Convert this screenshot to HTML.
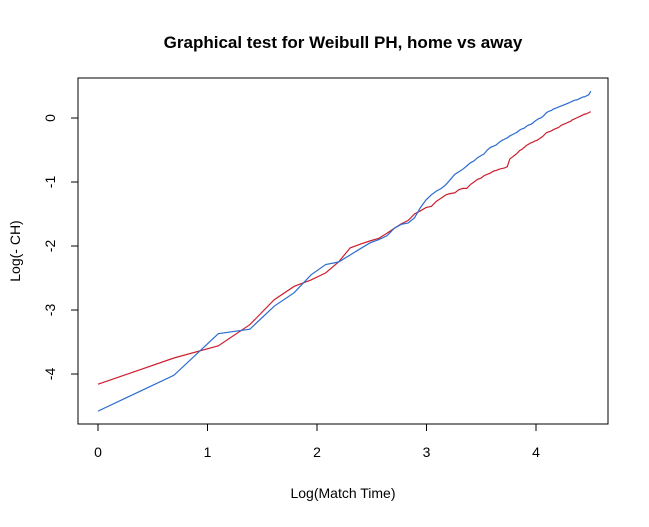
<!DOCTYPE html>
<html><head><meta charset="utf-8"><style>body{margin:0;background:#fff}</style></head>
<body>
<svg id="chart" width="649" height="522" xmlns="http://www.w3.org/2000/svg" font-family="Liberation Sans, sans-serif">
<text x="343" y="48" text-anchor="middle" font-size="17" font-weight="bold">Graphical test for Weibull PH, home vs away</text>
<rect x="78" y="78" width="530" height="346" fill="none" stroke="#000" stroke-width="1"/>
<text x="343" y="498" text-anchor="middle" font-size="14">Log(Match Time)</text>
<text transform="translate(20,251) rotate(-90)" text-anchor="middle" font-size="14">Log(- CH)</text>
<g id="axes"></g>
<g id="series"></g>
</svg>
<script>
const xTicks = [0, 1, 2, 3, 4];
const yTicks = [-4, -3, -2, -1, 0];
const homeValues = [-4.58,-4.02,-3.37,-3.30,-2.94,-2.73,-2.45,-2.29,-2.25,-2.14,-2.04,-1.95,-1.90,-1.84,-1.72,-1.66,-1.64,-1.56,-1.40,-1.28,-1.20,-1.14,-1.10,-1.04,-0.96,-0.88,-0.84,-0.80,-0.75,-0.70,-0.67,-0.62,-0.59,-0.56,-0.50,-0.46,-0.44,-0.42,-0.38,-0.35,-0.33,-0.31,-0.28,-0.26,-0.24,-0.22,-0.19,-0.17,-0.16,-0.13,-0.11,-0.10,-0.08,-0.05,-0.03,-0.01,0.00,0.02,0.05,0.08,0.10,0.11,0.12,0.14,0.15,0.16,0.17,0.18,0.19,0.20,0.21,0.22,0.23,0.24,0.25,0.26,0.27,0.28,0.28,0.29,0.30,0.31,0.32,0.33,0.33,0.34,0.35,0.36,0.38,0.42];
const awayValues = [-4.16,-3.75,-3.56,-3.23,-2.84,-2.63,-2.53,-2.42,-2.25,-2.03,-1.97,-1.92,-1.88,-1.80,-1.72,-1.65,-1.60,-1.50,-1.45,-1.40,-1.38,-1.30,-1.25,-1.20,-1.18,-1.17,-1.12,-1.10,-1.10,-1.04,-1.00,-0.96,-0.94,-0.90,-0.88,-0.86,-0.83,-0.82,-0.80,-0.79,-0.78,-0.76,-0.64,-0.61,-0.58,-0.55,-0.51,-0.49,-0.46,-0.43,-0.41,-0.39,-0.38,-0.36,-0.35,-0.33,-0.31,-0.29,-0.26,-0.23,-0.22,-0.21,-0.20,-0.18,-0.17,-0.16,-0.15,-0.13,-0.11,-0.10,-0.09,-0.08,-0.07,-0.06,-0.05,-0.03,-0.02,-0.01,0.00,0.01,0.02,0.03,0.04,0.05,0.06,0.06,0.07,0.08,0.09,0.10];
const times = [];
for (let k = 1; k <= homeValues.length; k++) times.push(k);

const NS = "http://www.w3.org/2000/svg";
const sx = v => 98 + 109.5 * v;
const sy = v => 118 - 64 * v;
const axes = document.getElementById('axes');
function mk(tag, attrs, parent) {
  const e = document.createElementNS(NS, tag);
  for (const k in attrs) e.setAttribute(k, attrs[k]);
  parent.appendChild(e);
  return e;
}
const xl = mk('line', {x1: sx(xTicks[0]), x2: sx(xTicks[xTicks.length-1]), y1: 424, y2: 424, stroke: '#000'}, axes);


xTicks.forEach(t => {
  const l = mk('line', {x1: sx(t), x2: sx(t), y1: 424, y2: 431, stroke: '#000'}, axes);
  
  
  const tx = mk('text', {x: sx(t), y: 457, 'text-anchor': 'middle', 'font-size': 14}, axes);
  tx.textContent = t;
  
  
});
const yl = mk('line', {x1: 78, x2: 78, y1: sy(yTicks[0]), y2: sy(yTicks[yTicks.length-1]), stroke: '#000'}, axes);


yTicks.forEach(t => {
  const l = mk('line', {x1: 71, x2: 78, y1: sy(t), y2: sy(t), stroke: '#000'}, axes);
  
  
  const tx = mk('text', {transform: `translate(55,${sy(t)}) rotate(-90)`, 'text-anchor': 'middle', 'font-size': 14}, axes);
  tx.textContent = t;
  
  
});
const series = document.getElementById('series');
function drawLine(vals, color, name) {
  const pts = vals.map((v, i) => sx(Math.log(times[i])).toFixed(2) + ',' + sy(v).toFixed(2)).join(' ');
  const p = mk('polyline', {points: pts, fill: 'none', stroke: color, 'stroke-width': 1.2}, series);
  
  
}
drawLine(awayValues, '#cc1f2e', 'away-line');
drawLine(homeValues, '#2a6bd1', 'home-line');
</script>
</body></html>
